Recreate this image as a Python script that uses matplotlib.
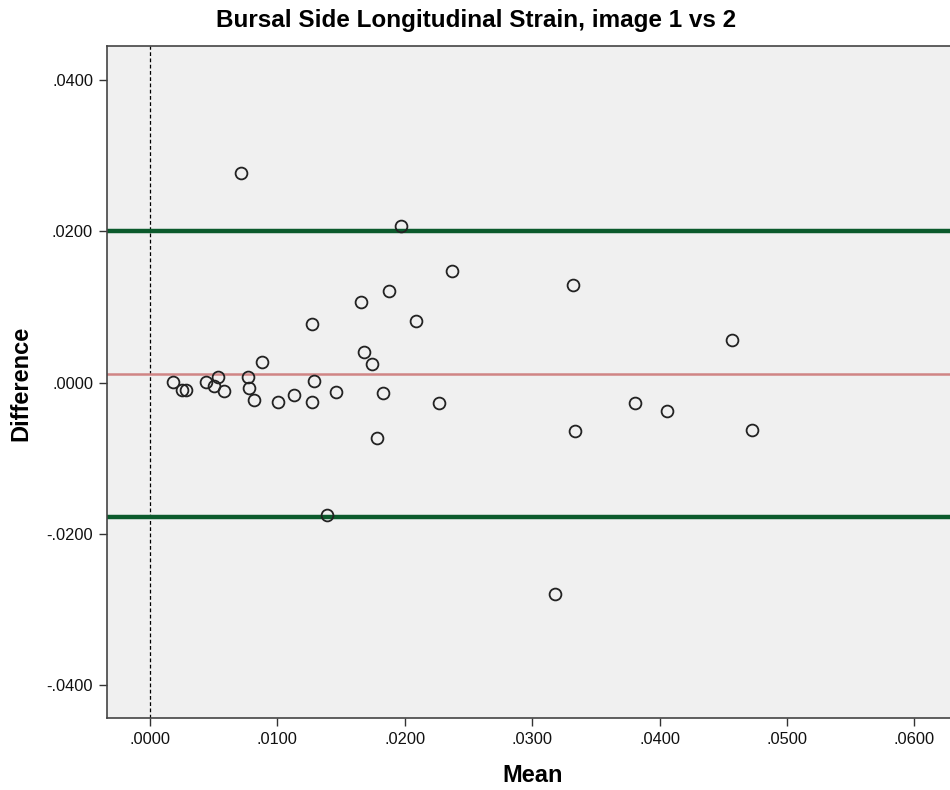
import matplotlib
matplotlib.use("Agg")
import matplotlib.pyplot as plt

# Bland-Altman data
mean = [0.00178, 0.00254, 0.00280, 0.00437, 0.00536, 0.00505, 0.00578, 0.00769,
        0.00779, 0.00816, 0.00877, 0.01007, 0.01130, 0.01274, 0.01285, 0.01458,
        0.01677, 0.01743, 0.01829, 0.02266, 0.01779, 0.00717, 0.01973, 0.02370,
        0.01876, 0.01656, 0.02088, 0.01274, 0.03323, 0.04571, 0.03809, 0.04058,
        0.03338, 0.04725, 0.01389, 0.03181]
diff = [0.00004, -0.00098, -0.00098, 0.00012, 0.00078, -0.00041, -0.00111, 0.00078,
        -0.00067, -0.00234, 0.00276, -0.00252, -0.00164, -0.00252, 0.00017, -0.00124,
        0.00401, 0.00242, -0.00141, -0.00266, -0.00728, 0.02775, 0.02074, 0.01479,
        0.01215, 0.01061, 0.00814, 0.00779, 0.01294, 0.00567, -0.00266, -0.00379,
        -0.00640, -0.00627, -0.01750, -0.02794]

mean_diff = 0.0011
upper_loa = 0.0201
lower_loa = -0.0177

xticks = [0.0, 0.01, 0.02, 0.03, 0.04, 0.05, 0.06]
xtick_labels = [".0000", ".0100", ".0200", ".0300", ".0400", ".0500", ".0600"]
yticks = [-0.04, -0.02, 0.0, 0.02, 0.04]
ytick_labels = ["-.0400", "-.0200", ".0000", ".0200", ".0400"]

plt.rcParams['font.family'] = ['Liberation Sans', 'DejaVu Sans']

fig = plt.figure(figsize=(9.5, 7.9), dpi=100)
ax = fig.add_axes([0.1126, 0.0907, 0.8874, 0.8511])
ax.set_facecolor("#f0f0f0")

ax.axvline(0, color="black", linestyle=(0, (3, 2)), linewidth=0.9, zorder=1)
ax.axhline(upper_loa, color="#0b5a2c", linewidth=3.2, zorder=2)
ax.axhline(lower_loa, color="#0b5a2c", linewidth=3.2, zorder=2)
ax.axhline(mean_diff, color="#d08585", linewidth=1.8, zorder=2)

ax.plot(mean, diff, linestyle="none", marker="o", markersize=8.5,
        markerfacecolor="none", markeredgecolor="#222222", markeredgewidth=1.3, zorder=3)

ax.set_xlim(-0.00338, 0.0628)
ax.set_ylim(-0.04438, 0.0445)
ax.set_xticks(xticks)
ax.set_xticklabels(xtick_labels)
ax.set_yticks(yticks)
ax.set_yticklabels(ytick_labels)
ax.tick_params(direction="out", length=6, width=1, color="#333333",
               labelsize=11.8, labelcolor="#111111", pad=4)

for side in ["left", "bottom", "top"]:
    ax.spines[side].set_color("#444444")
    ax.spines[side].set_linewidth(1.2)
ax.spines["right"].set_visible(False)

fig.text(476 / 950, 1 - 21 / 790, "Bursal Side Longitudinal Strain, image 1 vs 2",
         fontsize=17.5, fontweight="bold", ha="center", va="center")
fig.text(533 / 950, 1 - 775 / 790, "Mean", fontsize=17, fontweight="bold",
         ha="center", va="center")
fig.text(21 / 950, 1 - 383 / 790, "Difference", fontsize=17, fontweight="bold",
         ha="center", va="center", rotation=90)

fig.savefig("out.png", dpi=100)
